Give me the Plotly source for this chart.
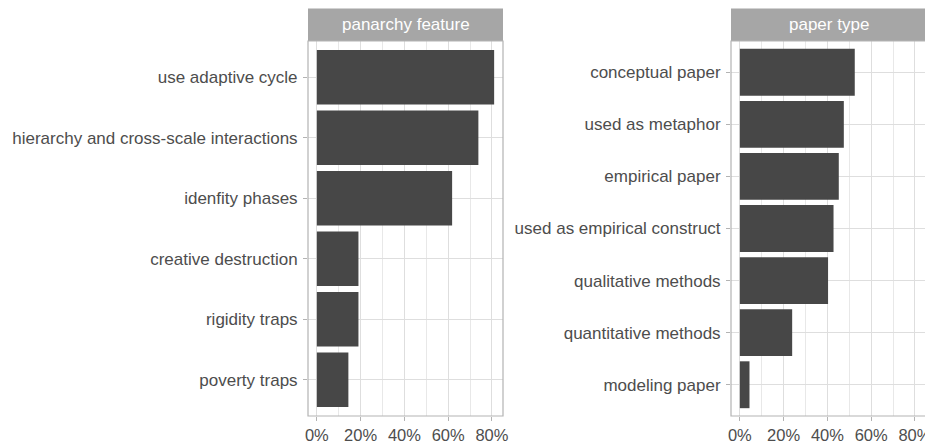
import plotly.graph_objects as go

# Data
feature_labels = ["poverty traps", "rigidity traps", "creative destruction",
                  "idenfity phases", "hierarchy and cross-scale interactions", "use adaptive cycle"]
feature_values = [0.144, 0.19, 0.19, 0.618, 0.738, 0.81]

paper_labels = ["modeling paper", "quantitative methods", "qualitative methods",
                "used as empirical construct", "empirical paper", "used as metaphor", "conceptual paper"]
paper_values = [0.044, 0.239, 0.403, 0.428, 0.452, 0.475, 0.525]

facet_titles = ["panarchy feature", "paper type"]
x_tickvals = [0, 0.2, 0.4, 0.6, 0.8]
x_ticktext = ["0%", "20%", "40%", "60%", "80%"]

OFF = 8  # default page body margin
W, H = 933 - OFF, 444 - OFF
BAR = "#474747"
TXT = "#4d4d4d"
BORDER = "#b3b3b3"
GRID = "#dedede"
STRIP = "#a6a6a6"
FONT = "Liberation Sans, Arial"

fig = go.Figure()
fig.add_trace(go.Bar(x=feature_values, y=feature_labels, orientation="h",
                     marker=dict(color=BAR, line=dict(width=0)), width=0.9,
                     xaxis="x", yaxis="y", showlegend=False, hoverinfo="x+y"))
fig.add_trace(go.Bar(x=paper_values, y=paper_labels, orientation="h",
                     marker=dict(color=BAR, line=dict(width=0)), width=0.9,
                     xaxis="x2", yaxis="y2", showlegend=False, hoverinfo="x+y"))

def px_x(v):
    return min(1.0, (v - OFF) / W)

def px_y(v):
    return (H - (v - OFF)) / H

panels = [(308, 503), (731, 926)]
top, bottom = 41, 416
strip_top = 8.5

xmax = 0.81
xr = [-0.05 * xmax, 1.05 * xmax]

common_x = dict(range=xr, tickvals=x_tickvals, ticktext=x_ticktext, automargin=False,
                showgrid=True, gridcolor=GRID, gridwidth=1,
                minor=dict(dtick=0.1, tick0=0, showgrid=True, gridcolor="#e8e8e8", gridwidth=0.6),
                zeroline=False, ticks="outside", ticklen=4, tickcolor=BORDER, tickwidth=1,
                tickfont=dict(family=FONT, size=16.5, color=TXT),
                showline=False, fixedrange=True)
common_y = dict(showgrid=True, gridcolor=GRID, gridwidth=1, zeroline=False, automargin=False,
                ticks="outside", ticklen=4, tickcolor=BORDER, tickwidth=1,
                tickfont=dict(family=FONT, size=17, color=TXT), ticklabelstandoff=2,
                showline=False, fixedrange=True, type="category")

fig.update_layout(
    width=W, height=H, margin=dict(l=0, r=0, t=0, b=0, autoexpand=False),
    paper_bgcolor="white", plot_bgcolor="white", bargap=0.1,
    xaxis=dict(domain=[px_x(panels[0][0]), px_x(panels[0][1])], anchor="y", **common_x),
    yaxis=dict(domain=[px_y(bottom), px_y(top)], anchor="x",
               range=[-0.6, len(feature_labels) - 0.4], **common_y),
    xaxis2=dict(domain=[px_x(panels[1][0]), px_x(panels[1][1])], anchor="y2", **common_x),
    yaxis2=dict(domain=[px_y(bottom), px_y(top)], anchor="x2",
                range=[-0.6, len(paper_labels) - 0.4], **common_y),
)

shapes = []
annotations = []
for (x0, x1), title in zip(panels, facet_titles):
    shapes.append(dict(type="rect", xref="paper", yref="paper",
                       x0=px_x(x0), x1=px_x(x1), y0=px_y(top), y1=px_y(strip_top),
                       fillcolor=STRIP, line=dict(width=0), layer="above"))
    shapes.append(dict(type="rect", xref="paper", yref="paper",
                       x0=px_x(x0), x1=px_x(x1), y0=px_y(bottom), y1=px_y(top),
                       fillcolor="rgba(0,0,0,0)", line=dict(color=BORDER, width=1.2), layer="above"))
    annotations.append(dict(text=title, xref="paper", yref="paper",
                            x=(px_x(x0) + px_x(x1)) / 2, y=(px_y(top) + px_y(strip_top)) / 2,
                            xanchor="center", yanchor="middle", showarrow=False,
                            font=dict(family=FONT, size=17, color="white")))
fig.update_layout(shapes=shapes, annotations=annotations)

fig.write_html("out.html")
